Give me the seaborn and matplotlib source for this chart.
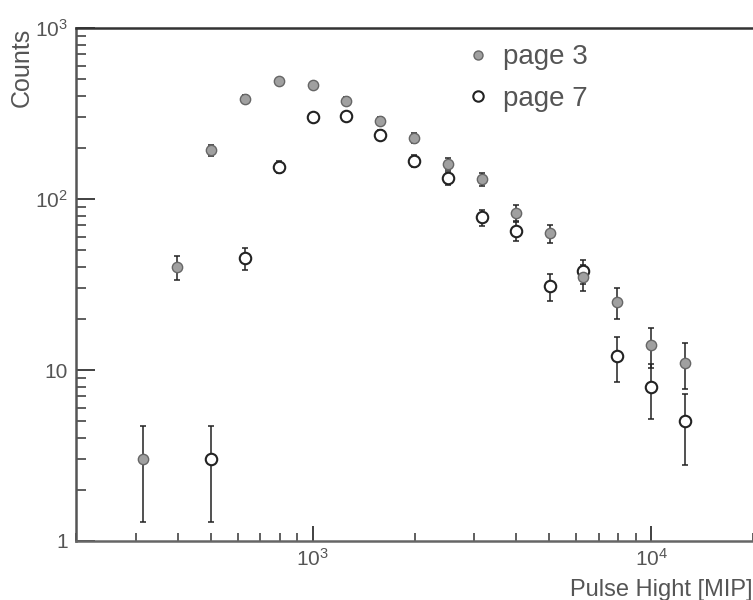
import numpy as np
import pandas as pd
import matplotlib
matplotlib.use("Agg")
import matplotlib.pyplot as plt
import seaborn as sns
from matplotlib.lines import Line2D
from matplotlib.ticker import FixedLocator, FixedFormatter, LogLocator, NullFormatter

# ---- data ----
pulse_p3 = [316, 398, 501, 631, 794, 1000, 1259, 1585, 1995, 2512, 3162, 3981, 5012, 6310, 7943, 10000, 12589]
counts_p3 = [3, 40, 193, 384, 490, 464, 374, 286, 227, 160, 131, 83, 63, 35, 25, 14, 11]
err_p3 = [1.7, 6.3, 13.9, 19.6, 22.1, 21.5, 19.3, 16.9, 15.1, 12.6, 11.4, 9.1, 7.9, 5.9, 5.0, 3.7, 3.3]

pulse_p7 = [501, 631, 794, 1000, 1259, 1585, 1995, 2512, 3162, 3981, 5012, 6310, 7943, 10000, 12589]
counts_p7 = [3, 45, 154, 302, 306, 237, 167, 133, 78, 65, 31, 38, 12, 8, 5]
err_p7 = [1.7, 6.7, 12.4, 17.4, 17.5, 15.4, 12.9, 11.5, 8.8, 8.1, 5.6, 6.2, 3.5, 2.8, 2.2]

labels = ["page 3", "page 7"]
ytick_vals = [1, 10, 100, 1000]
ytick_labels = ["1", "10", r"$10^{2}$", r"$10^{3}$"]
xtick_vals = [1000, 10000]
xtick_labels = [r"$10^{3}$", r"$10^{4}$"]

df3 = pd.DataFrame({"pulse": pulse_p3, "counts": counts_p3, "err": err_p3})
df7 = pd.DataFrame({"pulse": pulse_p7, "counts": counts_p7, "err": err_p7})

sns.set_style("white")
plt.rcParams["font.family"] = ["Liberation Sans", "DejaVu Sans"]
plt.rcParams["mathtext.fontset"] = "custom"
plt.rcParams["mathtext.rm"] = "Liberation Sans"
plt.rcParams["mathtext.it"] = "Liberation Sans:italic"
plt.rcParams["mathtext.bf"] = "Liberation Sans:bold"

TXT = "#555555"
W, H = 753, 600
fig = plt.figure(figsize=(W / 100, H / 100), dpi=100)
ax = fig.add_axes([76 / W, 59 / H, 677 / W, 513 / H])

# error bars
ax.errorbar(df7["pulse"], df7["counts"], yerr=df7["err"], fmt="none",
            ecolor="#222222", elinewidth=1.1, capsize=2.5, capthick=1.1, zorder=2)
ax.errorbar(df3["pulse"], df3["counts"], yerr=df3["err"], fmt="none",
            ecolor="#222222", elinewidth=1.1, capsize=2.5, capthick=1.1, zorder=2)

# markers
sns.scatterplot(data=df7, x="pulse", y="counts", ax=ax, marker="o", s=68,
                facecolor="white", edgecolor="#222222", linewidth=1.5, zorder=3)
sns.scatterplot(data=df3, x="pulse", y="counts", ax=ax, marker="o", s=55,
                color="#a0a0a0", edgecolor="#666666", linewidth=1.0, zorder=4)

ax.set_xscale("log")
ax.set_yscale("log")
ax.set_xlim(200, 20000)
ax.set_ylim(1, 1000)

ax.yaxis.set_major_locator(FixedLocator(ytick_vals))
ax.yaxis.set_major_formatter(FixedFormatter(ytick_labels))
ax.xaxis.set_major_locator(FixedLocator(xtick_vals))
ax.xaxis.set_major_formatter(FixedFormatter(xtick_labels))
ax.xaxis.set_minor_locator(LogLocator(base=10, subs=np.arange(2, 10)))
ax.yaxis.set_minor_locator(LogLocator(base=10, subs=np.arange(2, 10)))
ax.xaxis.set_minor_formatter(NullFormatter())
ax.yaxis.set_minor_formatter(NullFormatter())

ax.tick_params(axis="y", which="major", direction="in", length=14, width=1.3,
               color="#333333", labelsize=15, labelcolor=TXT, pad=6,
               left=True, right=False)
ax.tick_params(axis="y", which="minor", direction="in", length=7, width=1.1,
               color="#333333", left=True, right=False)
ax.tick_params(axis="x", which="major", direction="in", length=11, width=1.3,
               color="#333333", labelsize=15, labelcolor=TXT, pad=5,
               bottom=True, top=False)
ax.tick_params(axis="x", which="minor", direction="in", length=6, width=1.1,
               color="#333333", bottom=True, top=False)

for side in ["left", "top", "bottom"]:
    ax.spines[side].set_visible(True)
    ax.spines[side].set_linewidth(1.8)
ax.spines["left"].set_color("#555555")
ax.spines["top"].set_color("#333333")
ax.spines["bottom"].set_color("#666666")
ax.spines["right"].set_visible(False)

ax.set_xlabel("Pulse Hight [MIP]", fontsize=17, color=TXT, loc="right")
ax.xaxis.set_label_coords(1.0, -0.075)
ax.set_ylabel("Counts", fontsize=18, color=TXT, loc="top")
ax.yaxis.set_label_coords(-0.062, 1.0)

handles = [
    Line2D([], [], linestyle="none", marker="o", markersize=6.5,
           markerfacecolor="#a0a0a0", markeredgecolor="#666666", markeredgewidth=1.0),
    Line2D([], [], linestyle="none", marker="o", markersize=7.5,
           markerfacecolor="white", markeredgecolor="#222222", markeredgewidth=1.5),
]
leg = ax.legend(handles, labels, loc="upper left", bbox_to_anchor=(0.561, 0.99),
                frameon=False, fontsize=20, handletextpad=0.5, labelspacing=0.55,
                handlelength=0.8, borderaxespad=0)
for t in leg.get_texts():
    t.set_color(TXT)

fig.savefig("out.png", dpi=100, facecolor="white")
